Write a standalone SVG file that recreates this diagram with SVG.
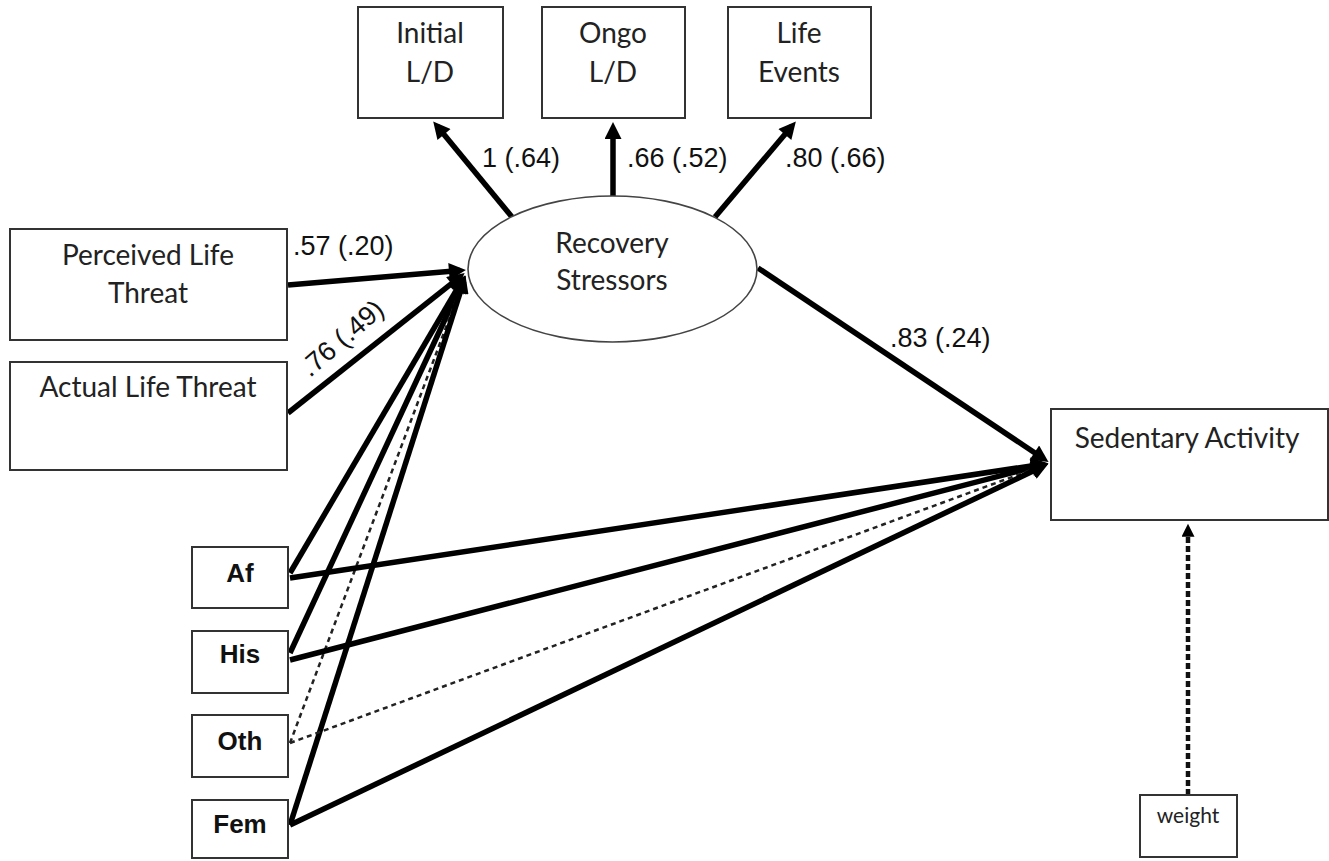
<svg xmlns="http://www.w3.org/2000/svg" width="1329" height="861" viewBox="0 0 1329 861">
<style>
.box{fill:#fff;stroke:#333;stroke-width:2}
.ell{fill:#fff;stroke:#444;stroke-width:1.6}
.lbl{font-family:Lato,"Open Sans","Liberation Sans",sans-serif;font-size:28px;fill:#222;text-anchor:middle}
.cat{font-family:"Liberation Sans",Arial,sans-serif;font-size:26px;font-weight:bold;fill:#111;text-anchor:middle}
.num{font-family:"Liberation Sans",Arial,sans-serif;font-size:27px;fill:#111}
.sm{font-family:Lato,"Open Sans","Liberation Sans",sans-serif;font-size:21px;fill:#222;text-anchor:middle}
.solid{stroke:#000;stroke-width:5.5;fill:none;marker-end:url(#ah)}
.dash{stroke:#222;stroke-width:2.5;fill:none;stroke-dasharray:5 4;marker-end:url(#ah)}
.wdash{stroke:#111;stroke-width:4.5;fill:none;stroke-dasharray:6 3;marker-end:url(#ahs)}
</style>
<defs>
<marker id="ah" viewBox="0 0 10 10" refX="6.5" refY="5" markerWidth="22" markerHeight="17" markerUnits="userSpaceOnUse" orient="auto">
<path d="M0,0 L10,5 L0,10 z" fill="#000"/>
</marker>
<marker id="ahs" viewBox="0 0 10 10" refX="6" refY="5" markerWidth="14" markerHeight="13" markerUnits="userSpaceOnUse" orient="auto">
<path d="M0,0 L10,5 L0,10 z" fill="#000"/>
</marker>
</defs>
<rect width="1329" height="861" fill="#fff"/>

<g id="connectors">
<line class="solid" x1="512" y1="217" x2="437" y2="126"/>
<line class="solid" x1="613" y1="197" x2="613" y2="128"/>
<line class="solid" x1="715" y1="217" x2="792" y2="126"/>
<line class="solid" x1="288" y1="285" x2="460" y2="270.6"/>
<line class="solid" x1="288" y1="413" x2="460" y2="276.8"/>
<line class="solid" x1="290" y1="573" x2="462" y2="280.6"/>
<line class="solid" x1="290" y1="653" x2="462.8" y2="281"/>
<line class="dash" x1="290" y1="743" x2="463.3" y2="281.2"/>
<line class="solid" x1="290" y1="825" x2="463.7" y2="281.3"/>
<line class="solid" x1="758" y1="268" x2="1043.6" y2="458.7"/>
<line class="solid" x1="290" y1="578" x2="1042.4" y2="464.2"/>
<line class="solid" x1="290" y1="660" x2="1042.5" y2="464.9"/>
<line class="dash" x1="290" y1="743" x2="1042.8" y2="465.7"/>
<line class="solid" x1="290" y1="825" x2="1043" y2="466.3"/>
<line class="wdash" x1="1188" y1="795" x2="1188" y2="529"/>
<text class="num" x="482" y="167">1 (.64)</text>
<text class="num" x="627" y="167">.66 (.52)</text>
<text class="num" x="785" y="167">.80 (.66)</text>
<text class="num" x="293" y="255">.57 (.20)</text>
<text class="num" x="0" y="0" transform="translate(310,378) rotate(-41)">.76 (.49)</text>
<text class="num" x="890" y="347">.83 (.24)</text>
</g>

<g id="initial">
<rect class="box" x="358" y="7" width="145" height="111"/>
<text class="lbl" x="430" y="43">Initial</text>
<text class="lbl" x="430" y="82">L/D</text>
</g>
<g id="ongo">
<rect class="box" x="542" y="7" width="143" height="111"/>
<text class="lbl" x="613" y="43">Ongo</text>
<text class="lbl" x="613" y="82">L/D</text>
</g>
<g id="lifeevents">
<rect class="box" x="728" y="7" width="143" height="111"/>
<text class="lbl" x="799" y="43">Life</text>
<text class="lbl" x="799" y="82">Events</text>
</g>
<g id="recovery">
<ellipse class="ell" cx="612.5" cy="269" rx="144.5" ry="73"/>
<text class="lbl" x="612" y="253">Recovery</text>
<text class="lbl" x="612" y="290">Stressors</text>
</g>
<g id="perceived">
<rect class="box" x="10" y="229" width="277" height="111"/>
<text class="lbl" x="148" y="265">Perceived Life</text>
<text class="lbl" x="148" y="303">Threat</text>
</g>
<g id="actual">
<rect class="box" x="10" y="362" width="277" height="108"/>
<text class="lbl" x="148" y="397">Actual Life Threat</text>
</g>
<g id="af">
<rect class="box" x="192" y="547" width="96" height="61"/>
<text class="cat" x="240" y="582">Af</text>
</g>
<g id="his">
<rect class="box" x="192" y="631" width="96" height="62"/>
<text class="cat" x="240" y="663">His</text>
</g>
<g id="oth">
<rect class="box" x="192" y="715" width="96" height="62"/>
<text class="cat" x="240" y="750">Oth</text>
</g>
<g id="fem">
<rect class="box" x="192" y="800" width="96" height="58"/>
<text class="cat" x="240" y="833">Fem</text>
</g>
<g id="sedentary">
<rect class="box" x="1051" y="409" width="277" height="111"/>
<text class="lbl" x="1187" y="448">Sedentary Activity</text>
</g>
<g id="weight">
<rect class="box" x="1140" y="795" width="97" height="62"/>
<text class="sm" x="1188" y="823">weight</text>
</g>
</svg>
